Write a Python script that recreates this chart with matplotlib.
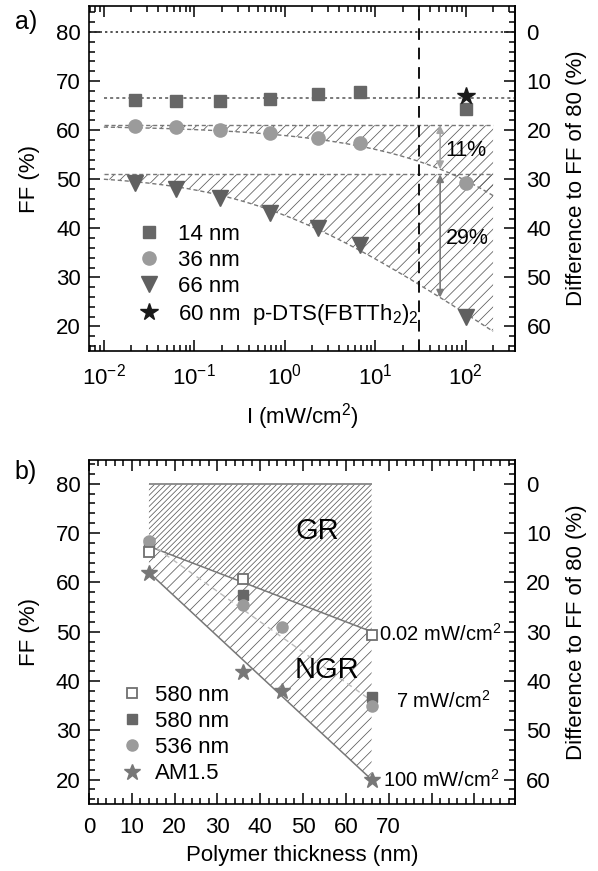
import numpy as np
import matplotlib.pyplot as plt
from matplotlib.ticker import (MultipleLocator, FixedLocator, FuncFormatter, LogLocator,
                               NullFormatter)

plt.rcParams['font.family'] = ['Liberation Sans', 'DejaVu Sans']
plt.rcParams['font.size'] = 16
plt.rcParams['mathtext.fontset'] = 'custom'
plt.rcParams['mathtext.rm'] = 'Liberation Sans'
plt.rcParams['hatch.linewidth'] = 0.55
plt.rcParams['axes.linewidth'] = 1.2

# --- panel a: FF vs light intensity ---
intensity = [0.022, 0.063, 0.19, 0.68, 2.3, 6.7, 100]
ff_14nm = [66.1, 66.0, 66.0, 66.3, 67.3, 67.8, 64.4]
ff_36nm = [60.8, 60.7, 60.0, 59.5, 58.4, 57.3, 49.3]
ff_66nm = [49.2, 48.1, 46.1, 43.1, 40.1, 36.5, 22.0]
intensity_dts = [100]
ff_dts = [67.0]

ff_14nm_level = 66.5
# guide curves: ff0 - amp * log10(1 + (I / i0) ** p)
fit_36nm = dict(ff0=61.0, amp=162.0, i0=1e4, p=0.38)
fit_66nm = dict(ff0=51.0, amp=22.7, i0=10 ** -0.23, p=0.55)
i_fit_range = (0.01, 200)
i_sun_limit = 30
i_arrow = 52

# --- panel b: FF vs polymer thickness ---
thick_580_low = [14, 36, 66]
ff_580_low = [66.1, 60.7, 49.4]
thick_580_mid = [14, 36, 66]
ff_580_mid = [68.0, 57.5, 36.7]
thick_536 = [14, 36, 45, 66]
ff_536 = [68.4, 55.5, 50.9, 34.9]
thick_am15 = [14, 36, 45, 66]
ff_am15 = [61.9, 41.8, 37.9, 20.0]

thick_ends = [14, 66]
ff_gr_edge = [67.3, 50.0]
ff_mid_line = [68.0, 36.0]
ff_ngr_edge = [62.0, 20.0]

diff_ticks = [0, 10, 20, 30, 40, 50, 60]


def guide(I, ff0, amp, i0, p):
    return ff0 - amp * np.log10(1 + (np.asarray(I) / i0) ** p)


def style_ticks(ax):
    ax.tick_params(which='both', direction='in', top=True, right=False, width=1.1)
    ax.tick_params(which='major', length=8)
    ax.tick_params(which='minor', length=4.3)
    ax.tick_params(axis='y', pad=6)
    ax.tick_params(axis='x', pad=9)


def add_diff_axis(ax):
    sec = ax.secondary_yaxis('right', functions=(lambda y: 80 - y, lambda d: 80 - d))
    sec.yaxis.set_major_locator(FixedLocator(diff_ticks))
    sec.yaxis.set_minor_locator(FixedLocator(np.arange(-4, 66, 2)))
    sec.tick_params(which='both', direction='in', width=1.1, pad=8)
    sec.tick_params(which='major', length=8)
    sec.tick_params(which='minor', length=4.3)
    sec.set_ylabel('Difference to FF of 80 (%)')
    sec.yaxis.set_label_coords(1.119, 0.5, transform=ax.transAxes)
    return sec


fig = plt.figure(figsize=(5.98, 8.71), dpi=100)
ax1 = fig.add_axes([0.1493, 0.597, 0.7124, 0.3961])
ax2 = fig.add_axes([0.1488, 0.0766, 0.7124, 0.3953])

dark = '#676767'
light = '#9b9b9b'
hatch_col = '#5a5a5a'

# panel a
I_fit = np.logspace(np.log10(i_fit_range[0]), np.log10(i_fit_range[1]), 300)
for fit in (fit_36nm, fit_66nm):
    curve = guide(I_fit, **fit)
    ax1.fill_between(I_fit, curve, fit['ff0'], facecolor='none', edgecolor=hatch_col,
                     linewidth=0, hatch='///', zorder=1)
    ax1.plot(I_fit, curve, color='#777777', lw=1.0, ls=(0, (3, 2)), zorder=2)
    ax1.hlines(fit['ff0'], *i_fit_range, color='#777777', lw=1.0, ls=(0, (3, 2)), zorder=2)

ax1.axhline(80, color='#222222', lw=1.1, ls=(0, (1.5, 2)), zorder=2)
ax1.hlines(ff_14nm_level, i_fit_range[0], 350, color='#555555', lw=1.1,
           ls=(0, (2, 2)), zorder=2)
ax1.axvline(i_sun_limit, color='#111111', lw=1.4, ls=(0, (6, 4)), zorder=2)

ax1.annotate('', xy=(i_arrow, guide(i_arrow, **fit_36nm)), xytext=(i_arrow, fit_36nm['ff0']),
             arrowprops=dict(arrowstyle='<|-|>', color='#a5a5a5', lw=1.2,
                             shrinkA=0, shrinkB=0, mutation_scale=11))
ax1.annotate('', xy=(i_arrow, guide(i_arrow, **fit_66nm)), xytext=(i_arrow, fit_66nm['ff0']),
             arrowprops=dict(arrowstyle='<|-|>', color='#7a7a7a', lw=1.2,
                             shrinkA=0, shrinkB=0, mutation_scale=11))
ax1.text(60, 55.9, '11%', ha='left', va='center', fontsize=15.5)
ax1.text(60, 38.0, '29%', ha='left', va='center', fontsize=15.5)

ax1.plot(intensity, ff_14nm, 's', color=dark, ms=9, ls='none', label='14 nm', zorder=4)
ax1.plot(intensity, ff_36nm, 'o', color=light, ms=9.5, ls='none', label='36 nm', zorder=4)
ax1.plot(intensity, ff_66nm, 'v', color='#606060', ms=11, ls='none', label='66 nm', zorder=4)
ax1.plot(intensity_dts, ff_dts, '*', color='#1a1a1a', ms=13, ls='none',
         label=r'60 nm  p-DTS(FBTTh$_2$)$_2$', zorder=5)

ax1.set_xscale('log')
ax1.set_xlim(0.0069, 352)
ax1.set_ylim(15, 85.3)
ax1.xaxis.set_major_locator(LogLocator(base=10, numticks=10))
ax1.xaxis.set_minor_locator(LogLocator(base=10, subs=np.arange(2, 10), numticks=10))
ax1.xaxis.set_minor_formatter(NullFormatter())
ax1.yaxis.set_major_locator(MultipleLocator(10))
ax1.yaxis.set_minor_locator(MultipleLocator(2))
style_ticks(ax1)
ax1.set_xlabel(r'I (mW/cm$^2$)')
ax1.xaxis.set_label_coords(0.5, -0.145)
ax1.set_ylabel('FF (%)')
ax1.yaxis.set_label_coords(-0.116, 0.5)
add_diff_axis(ax1)
ax1.legend(loc='lower left', bbox_to_anchor=(0.115, 0.07), frameon=False, borderpad=0,
           handlelength=1.0, handletextpad=0.8, labelspacing=0.23, fontsize=16,
           borderaxespad=0)

# panel b
ax2.fill_between(thick_ends, ff_gr_edge, 80, facecolor='none', edgecolor=hatch_col,
                 linewidth=0, hatch='//////', zorder=1)
ax2.fill_between(thick_ends, ff_ngr_edge, ff_gr_edge, facecolor='none', edgecolor=hatch_col,
                 linewidth=0, hatch='///', zorder=1)
ax2.hlines(80, *thick_ends, color='#888888', lw=1.3, zorder=2)
ax2.plot(thick_ends, ff_gr_edge, color='#777777', lw=1.1, zorder=2)
ax2.plot(thick_ends, ff_ngr_edge, color='#777777', lw=1.1, zorder=2)
ax2.plot(thick_ends, ff_mid_line, color='#bbbbbb', lw=1.0, ls=(0, (4, 3)), zorder=2)

ax2.plot(thick_580_mid, ff_580_mid, 's', color=dark, ms=7, ls='none', label='580 nm', zorder=4)
ax2.plot(thick_536, ff_536, 'o', color=light, ms=8, ls='none', label='536 nm', zorder=5)
ax2.plot(thick_580_low, ff_580_low, 's', mfc='white', mec='#707070', mew=1.3, ms=7.5,
         ls='none', label='580 nm', zorder=6)
ax2.plot(thick_am15, ff_am15, '*', color='#777777', ms=12, ls='none', label='AM1.5', zorder=4)

ax2.text(67.8, 49.6, r'0.02 mW/cm$^2$', ha='left', va='center', fontsize=14.5)
ax2.text(71.8, 35.9, r'7 mW/cm$^2$', ha='left', va='center', fontsize=14.5)
ax2.text(68.7, 20.0, r'100 mW/cm$^2$', ha='left', va='center', fontsize=14.5)
ax2.text(53.3, 70.4, 'GR', ha='center', va='center', fontsize=21)
ax2.text(55.6, 42.3, 'NGR', ha='center', va='center', fontsize=21)

ax2.set_xlim(0, 99.5)
ax2.set_ylim(15, 84.8)
ax2.xaxis.set_major_locator(MultipleLocator(10))
ax2.xaxis.set_minor_locator(MultipleLocator(2))
ax2.xaxis.set_major_formatter(FuncFormatter(lambda v, pos: f'{v:.0f}' if v <= 70 else ''))
ax2.yaxis.set_major_locator(MultipleLocator(10))
ax2.yaxis.set_minor_locator(MultipleLocator(2))
style_ticks(ax2)
ax2.set_xlabel('Polymer thickness (nm)')
ax2.xaxis.set_label_coords(0.5, -0.119)
ax2.set_ylabel('FF (%)')
ax2.yaxis.set_label_coords(-0.116, 0.5)
add_diff_axis(ax2)

handles, labels = ax2.get_legend_handles_labels()
order = [2, 0, 1, 3]
ax2.legend([handles[i] for i in order], [labels[i] for i in order], loc='lower left',
           bbox_to_anchor=(0.074, 0.058), frameon=False, borderpad=0, handlelength=1.0,
           handletextpad=0.55, labelspacing=0.23, fontsize=16, borderaxespad=0)

fig.text(0.025, 0.988, 'a)', fontsize=18, va='top')
fig.text(0.025, 0.472, 'b)', fontsize=18, va='top')

fig.savefig('out.png', dpi=100)
